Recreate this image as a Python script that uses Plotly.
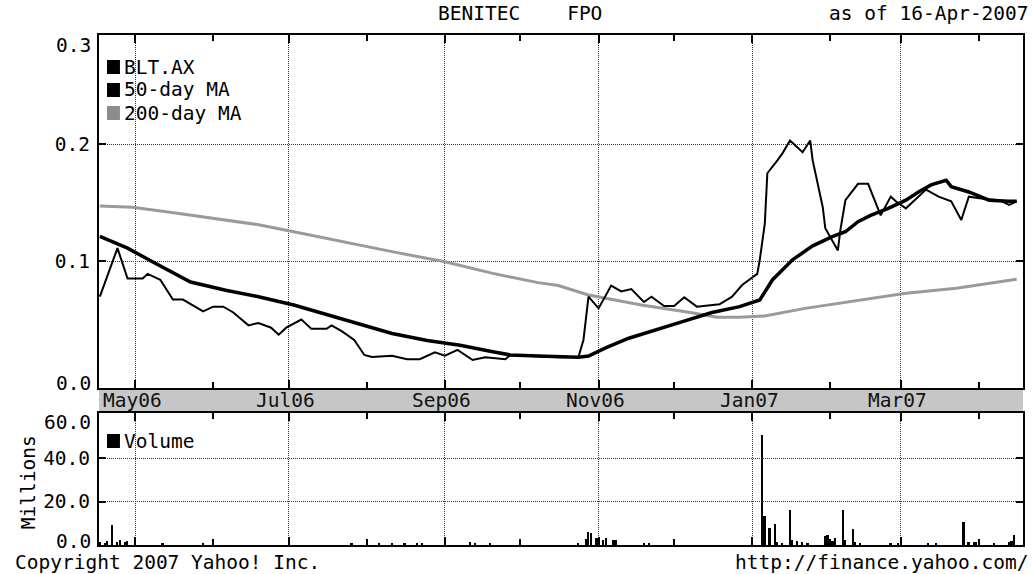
import plotly.graph_objects as go

# ---------------- data ----------------
price_dates = ["2006-04-17", "2006-04-24", "2006-04-28", "2006-05-04", "2006-05-06", "2006-05-11",
               "2006-05-16", "2006-05-20", "2006-05-28", "2006-06-01", "2006-06-05", "2006-06-09",
               "2006-06-15", "2006-06-19", "2006-06-24", "2006-06-27", "2006-06-30", "2006-07-06",
               "2006-07-10", "2006-07-16", "2006-07-18", "2006-07-22", "2006-07-27", "2006-07-31",
               "2006-08-03", "2006-08-11", "2006-08-17", "2006-08-22", "2006-08-28", "2006-09-01",
               "2006-09-06", "2006-09-12", "2006-09-17", "2006-09-25", "2006-09-27", "2006-10-08",
               "2006-10-16", "2006-10-24", "2006-10-26", "2006-10-28", "2006-11-01", "2006-11-06",
               "2006-11-10", "2006-11-14", "2006-11-19", "2006-11-22", "2006-11-27", "2006-12-01",
               "2006-12-05", "2006-12-10", "2006-12-19", "2006-12-24", "2006-12-28", "2007-01-03",
               "2007-01-04", "2007-01-06", "2007-01-07", "2007-01-11", "2007-01-13", "2007-01-16",
               "2007-01-21", "2007-01-24", "2007-01-25", "2007-01-29", "2007-01-30", "2007-02-04",
               "2007-02-05", "2007-02-07", "2007-02-12", "2007-02-16", "2007-02-21", "2007-02-25",
               "2007-02-27", "2007-03-03", "2007-03-06", "2007-03-11", "2007-03-16", "2007-03-21",
               "2007-03-25", "2007-03-28", "2007-04-02", "2007-04-09", "2007-04-13", "2007-04-16"]
price_vals = [0.0695, 0.111, 0.085, 0.085, 0.089, 0.084,
              0.067, 0.067, 0.057, 0.061, 0.061, 0.056,
              0.045, 0.047, 0.043, 0.037, 0.043, 0.050,
              0.042, 0.042, 0.045, 0.040, 0.0325, 0.0197,
              0.018, 0.019, 0.016, 0.016, 0.022, 0.019,
              0.024, 0.0154, 0.0177, 0.016, 0.0197, 0.0188,
              0.0177, 0.018, 0.0325, 0.0695, 0.0595, 0.079,
              0.074, 0.076, 0.065, 0.0695, 0.0615, 0.0615,
              0.069, 0.061, 0.063, 0.0695, 0.0795, 0.089,
              0.101, 0.132, 0.175, 0.186, 0.192, 0.203,
              0.193, 0.203, 0.186, 0.146, 0.128, 0.109,
              0.1265, 0.152, 0.166, 0.166, 0.139, 0.155,
              0.151, 0.145, 0.151, 0.161, 0.155, 0.151,
              0.135, 0.155, 0.1535, 0.152, 0.148, 0.151]

ma50_dates = ["2006-04-17", "2006-04-28", "2006-05-09", "2006-05-23", "2006-06-06", "2006-06-19",
              "2006-07-03", "2006-07-16", "2006-07-29", "2006-08-11", "2006-08-25", "2006-09-07",
              "2006-09-20", "2006-09-27", "2006-10-08", "2006-10-24", "2006-10-28", "2006-11-04",
              "2006-11-13", "2006-11-24", "2006-12-04", "2006-12-16", "2006-12-27", "2007-01-04",
              "2007-01-09", "2007-01-17", "2007-01-25", "2007-02-02", "2007-02-07", "2007-02-12",
              "2007-02-17", "2007-02-24", "2007-03-03", "2007-03-08", "2007-03-13", "2007-03-19",
              "2007-03-21", "2007-03-28", "2007-04-05", "2007-04-13", "2007-04-16"]
ma50_vals = [0.121, 0.111, 0.098, 0.082, 0.075, 0.0695,
             0.0624, 0.0544, 0.0467, 0.038, 0.032, 0.028,
             0.0225, 0.0197, 0.0188, 0.0177, 0.0188, 0.026,
             0.034, 0.041, 0.048, 0.056, 0.061, 0.0667,
             0.0838, 0.101, 0.113, 0.121, 0.125, 0.1336,
             0.139, 0.145, 0.152, 0.159, 0.165, 0.169,
             0.1635, 0.159, 0.152, 0.151, 0.151]

ma200_dates = ["2006-04-17", "2006-04-30", "2006-05-17", "2006-06-06", "2006-06-19", "2006-07-03",
               "2006-07-22", "2006-08-11", "2006-09-01", "2006-09-20", "2006-10-08", "2006-10-16",
               "2006-10-28", "2006-11-18", "2006-12-08", "2006-12-18", "2006-12-27", "2007-01-06",
               "2007-01-22", "2007-02-11", "2007-03-03", "2007-03-23", "2007-04-16"]
ma200_vals = [0.147, 0.146, 0.141, 0.135, 0.131, 0.125,
              0.1165, 0.108, 0.0994, 0.0894, 0.0815, 0.079,
              0.071, 0.0624, 0.0558, 0.052, 0.052, 0.053,
              0.0595, 0.0658, 0.0724, 0.0767, 0.0844]

vol_dates = ["2006-04-17", "2006-04-19", "2006-04-20", "2006-04-22", "2006-04-24", "2006-04-25",
             "2006-04-27", "2006-04-28", "2006-05-12", "2006-05-28", "2006-07-26", "2006-08-06",
             "2006-08-11", "2006-08-16", "2006-08-21", "2006-08-23", "2006-09-11", "2006-09-13",
             "2006-09-19", "2006-10-24", "2006-10-27", "2006-10-28", "2006-10-29", "2006-10-31",
             "2006-11-01", "2006-11-03", "2006-11-04", "2006-11-07", "2006-11-08", "2006-11-19",
             "2006-11-21", "2007-01-05", "2007-01-06", "2007-01-08", "2007-01-10", "2007-01-11",
             "2007-01-13", "2007-01-16", "2007-01-17", "2007-01-19", "2007-01-21", "2007-01-23",
             "2007-01-30", "2007-01-31", "2007-02-02", "2007-02-03", "2007-02-06", "2007-02-07",
             "2007-02-10", "2007-02-11", "2007-02-13", "2007-02-25", "2007-02-28", "2007-03-12",
             "2007-03-15", "2007-03-26", "2007-03-28", "2007-03-30", "2007-03-31", "2007-04-07",
             "2007-04-13", "2007-04-14", "2007-04-15"]
vol_vals = [1.5, 1.0, 2.0, 9.0, 1.5, 2.5,
            1.5, 2.0, 1.0, 1.0, 0.8, 0.8,
            1.0, 0.8, 1.0, 0.8, 1.2, 0.6,
            0.6, 0.5, 2.6, 6.0, 5.3, 3.4,
            3.0, 2.5, 3.0, 2.5, 2.5, 1.0,
            1.0, 50.7, 13.3, 7.9, 9.5, 1.5,
            1.0, 15.9, 2.5, 2.0, 1.5, 1.0,
            4.1, 4.5, 2.0, 3.0, 15.9, 2.5,
            7.6, 1.5, 1.0, 1.0, 1.0, 1.0,
            1.0, 10.7, 1.5, 1.2, 1.2, 1.0,
            1.5, 2.0, 4.7]

major_ticks = ["2006-05-01", "2006-07-01", "2006-09-01", "2006-11-01", "2007-01-01", "2007-03-01"]
major_labels = ["May06", "Jul06", "Sep06", "Nov06", "Jan07", "Mar07"]
minor_ticks = ["2006-06-01", "2006-08-01", "2006-10-01", "2006-12-01", "2007-02-01", "2007-04-01"]
x_range = ["2006-04-16 16:00", "2007-04-18 12:00"]

price_ticks = [0.1, 0.2]
vol_ticks = [20, 40]

# ---------------- layout geometry ----------------
W, H = 1034, 574
ML, MR, MT, MB = 99, 9, 35, 29
PW, PH = W - ML - MR, H - MT - MB
FONT = "DejaVu Sans Mono"
FS = 19.5


def px_x(px):
    return (px - ML) / PW


def px_y(py):
    return (H - MB - py) / PH


main_dom = [px_y(388), 1.0]
vol_dom = [0.0, px_y(413)]

fig = go.Figure()
fig.add_trace(go.Scatter(x=ma200_dates, y=ma200_vals, mode="lines", name="200-day MA",
                         line=dict(color="#9a9a9a", width=3), xaxis="x", yaxis="y"))
fig.add_trace(go.Scatter(x=ma50_dates, y=ma50_vals, mode="lines", name="50-day MA",
                         line=dict(color="black", width=3.5), xaxis="x", yaxis="y"))
fig.add_trace(go.Scatter(x=price_dates, y=price_vals, mode="lines", name="BLT.AX",
                         line=dict(color="black", width=2), xaxis="x", yaxis="y"))
fig.add_trace(go.Bar(x=vol_dates, y=vol_vals, name="Volume", marker=dict(color="black", line=dict(width=0)),
                     width=0.7 * 86400000, xaxis="x2", yaxis="y2"))

grid_common = dict(showgrid=True, gridcolor="#333333", griddash="1px,1px", gridwidth=1)
xcommon = dict(type="date", range=x_range, tickmode="array", tickvals=major_ticks,
               showticklabels=False, ticks="inside", ticklen=8, tickwidth=2, tickcolor="black",
               showline=True, linecolor="black", linewidth=2, mirror="ticks", zeroline=False,
               minor=dict(tickmode="array", tickvals=minor_ticks, ticks="inside", ticklen=6,
                          tickwidth=2, tickcolor="black", showgrid=False),
               **grid_common)
ycommon = dict(tickmode="array", ticks="inside", ticklen=7, tickwidth=2, tickcolor="black",
               showline=True, linecolor="black", linewidth=2, mirror="ticks", zeroline=False,
               tickfont=dict(family=FONT, size=FS, color="black"), ticklabelstandoff=3,
               **grid_common)

fig.update_layout(
    width=W, height=H, margin=dict(l=ML, r=MR, t=MT, b=MB),
    paper_bgcolor="white", plot_bgcolor="white", showlegend=False, bargap=0,
    font=dict(family=FONT, size=FS, color="black"),
    xaxis=dict(domain=[0, 1], anchor="y", **xcommon),
    xaxis2=dict(domain=[0, 1], anchor="y2", matches="x", **xcommon),
    yaxis=dict(domain=main_dom, range=[-0.00855, 0.29316], tickvals=price_ticks,
               ticktext=["%.1f" % v for v in price_ticks], **ycommon),
    yaxis2=dict(domain=vol_dom, range=[0, 60.8], tickvals=vol_ticks,
                ticktext=["%.1f" % v for v in vol_ticks], **ycommon),
)

# date band between the panels
fig.add_shape(type="rect", xref="paper", yref="paper", x0=0, x1=1, y0=vol_dom[1], y1=main_dom[0],
              fillcolor="#c6c6c6", line=dict(width=0), layer="below")

ann = []
band_y = (vol_dom[1] + main_dom[0]) / 2
for d, lab in zip(major_ticks, major_labels):
    ann.append(dict(x=d, xref="x", y=band_y, yref="paper", text=lab, showarrow=False,
                    xanchor="center", yanchor="middle", xshift=-3,
                    font=dict(family=FONT, size=FS, color="#111")))


def txt(px, py, text, anchor="left", angle=0, color="black"):
    ann.append(dict(x=px_x(px), xref="paper", y=px_y(py), yref="paper", text=text, showarrow=False,
                    xanchor=anchor, yanchor="middle", textangle=angle,
                    font=dict(family=FONT, size=FS, color=color)))


def legend_square(px, py, color):
    fig.add_shape(type="rect", xref="paper", yref="paper",
                  x0=px_x(px), x1=px_x(px + 13), y0=px_y(py + 7), y1=px_y(py - 7),
                  fillcolor=color, line=dict(width=0))


# clamped axis labels
txt(93, 45, "0.3", "right")
txt(93, 383, "0.0", "right")
txt(93, 422, "60.0", "right")
txt(93, 541, "0.0", "right")
txt(28, 482, "Millions", "center", angle=-90)

# legends
legend_square(107, 67, "black")
legend_square(107, 90, "black")
legend_square(107, 113, "#8c8c8c")
legend_square(107, 441, "black")
txt(122, 67, "BLT.AX")
txt(122, 90, "50-day MA")
txt(122, 113, "200-day MA")
txt(122, 441, "Volume")

# header / footer
txt(437, 14, "BENITEC    FPO")
txt(1033, 14, "as of 16-Apr-2007", "right")
txt(13, 562, "Copyright 2007 Yahoo! Inc.")
txt(1033, 562, "http://finance.yahoo.com/", "right")

fig.update_layout(annotations=ann)
fig.write_html("out.html", config={"displayModeBar": False},
               post_script="document.body.style.margin='0px';")
